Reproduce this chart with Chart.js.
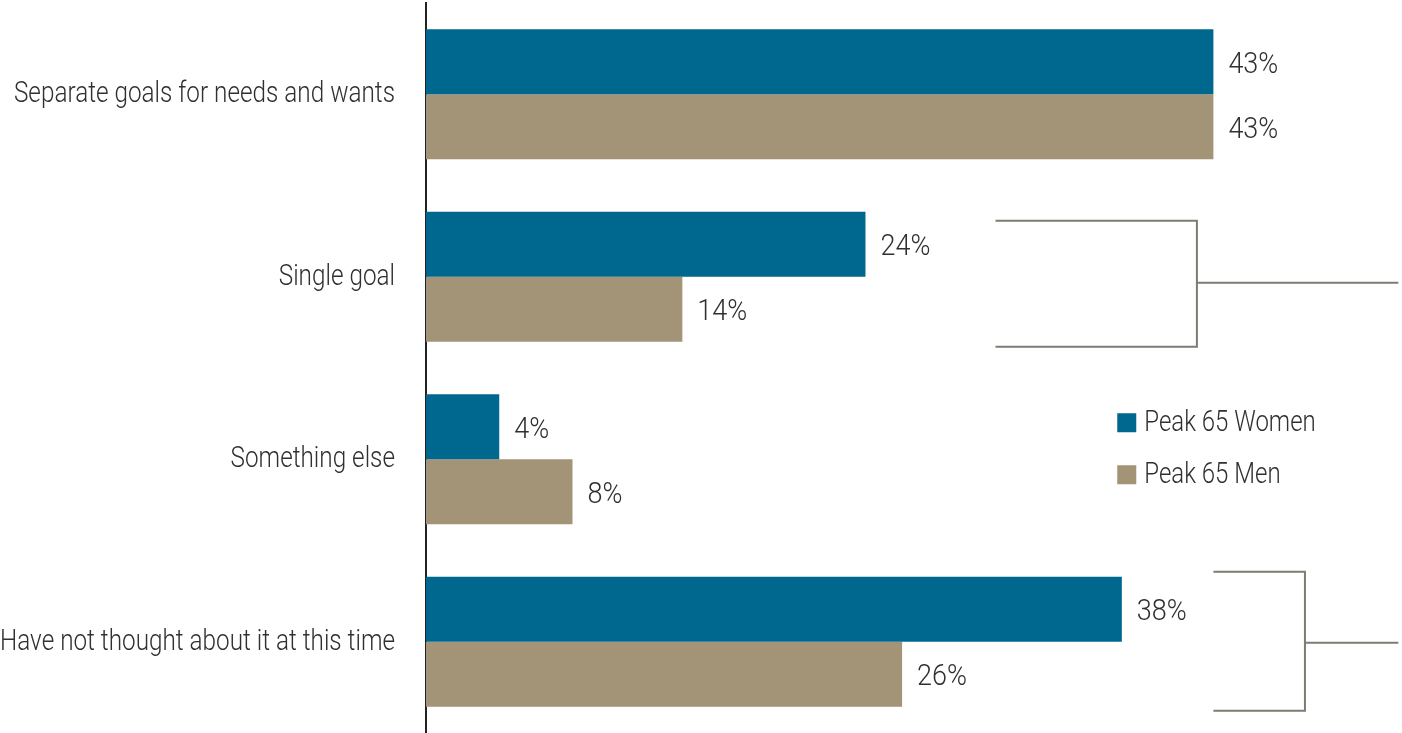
<!DOCTYPE html>
<html>
<head>
<meta charset="utf-8">
<script src="https://cdn.jsdelivr.net/npm/chart.js@4"></script>
<style>
  html, body { margin: 0; padding: 0; background: #fff; }
  #wrap { width: 1402px; height: 733px; }
</style>
</head>
<body>
<div id="wrap"><canvas id="goalsChart"></canvas></div>
<script>
const categories = ['Separate goals for needs and wants', 'Single goal', 'Something else', 'Have not thought about it at this time']
const seriesNames = ['Peak 65 Women', 'Peak 65 Men']
const womenValues = [43, 24, 4, 38]
const menValues = [43, 14, 8, 26]

// brackets on the right: category they group, left edge, spine and tail end (in % units)
const bracketCategory = [1, 3]
const bracketLeft = [31.1, 43]
const bracketSpine = [42.1, 48]
const bracketEnd = 53.1

const FONT = '300 30px Roboto, sans-serif'
const TEXT = '#303030'
const colors = ['#00678f', '#a39377']

// no condensed face installed, so narrow the glyphs by hand
function narrowText(ctx, str, x, y, align, squeeze) {
  ctx.save()
  ctx.font = FONT
  ctx.fillStyle = TEXT
  ctx.textBaseline = 'alphabetic'
  ctx.textAlign = align
  ctx.translate(x, y)
  ctx.scale(squeeze || 0.81, 1)
  ctx.fillText(str, 0, 0)
  ctx.restore()
}

const textLayer = {
  id: 'textLayer',
  afterDatasetsDraw(chart) {
    const ctx = chart.ctx
    const y = chart.scales.y

    // category names, right aligned against the axis
    chart.data.labels.forEach((lab, i) => {
      narrowText(ctx, lab, y.right - 31, y.getPixelForValue(i) + 8, 'right')
    })

    // value labels after each bar
    chart.data.datasets.forEach((ds, i) => {
      chart.getDatasetMeta(i).data.forEach((bar, j) => {
        narrowText(ctx, ds.data[j] + '%', bar.x + 15, bar.y + 11, 'left', 0.9)
      })
    })
  }
}

const brackets = {
  id: 'brackets',
  afterDraw(chart) {
    const ctx = chart.ctx
    const x = chart.scales.x
    const y = chart.scales.y
    const topOff = [-56, -70]
    const midOff = [6, 1]
    const botOff = [70, 69]
    ctx.save()
    ctx.strokeStyle = '#7b7c72'
    ctx.lineWidth = 2
    bracketCategory.forEach((c, i) => {
      const cy = y.getPixelForValue(c)
      const x0 = x.getPixelForValue(bracketLeft[i])
      const xs = x.getPixelForValue(bracketSpine[i])
      const xe = x.getPixelForValue(bracketEnd)
      ctx.beginPath()
      ctx.moveTo(x0, cy + topOff[i])
      ctx.lineTo(xs, cy + topOff[i])
      ctx.lineTo(xs, cy + botOff[i])
      ctx.lineTo(x0, cy + botOff[i])
      ctx.moveTo(xs, cy + midOff[i])
      ctx.lineTo(xe, cy + midOff[i])
      ctx.stroke()
    })
    ctx.restore()

    // legend inside the plot, beside "Something else"
    const lx = x.getPixelForValue(37.75)
    const ly = y.getPixelForValue(2)
    chart.data.datasets.forEach((ds, i) => {
      const base = ly - 28 + i * 52
      ctx.fillStyle = ds.backgroundColor
      ctx.fillRect(lx, base - 18, 19, 19)
      narrowText(ctx, ds.label, lx + 27, base, 'left', 0.8)
    })
  }
}

new Chart(document.getElementById('goalsChart'), {
  type: 'bar',
  data: {
    labels: categories,
    datasets: [
      { label: seriesNames[0], data: womenValues, backgroundColor: colors[0] },
      { label: seriesNames[1], data: menValues, backgroundColor: colors[1] }
    ]
  },
  options: {
    indexAxis: 'y',
    responsive: true,
    maintainAspectRatio: false,
    animation: false,
    layout: { padding: { top: 3, right: 0, bottom: 0, left: 0 } },
    datasets: { bar: { categoryPercentage: 0.712, barPercentage: 1 } },
    plugins: {
      legend: { display: false },
      tooltip: { enabled: false }
    },
    scales: {
      x: {
        display: false,
        min: 0,
        max: 53.3
      },
      y: {
        afterFit(scale) {
          scale.width = 426
          scale.paddingTop = 0
          scale.paddingBottom = 0
        },
        grid: { display: true, color: 'transparent', drawTicks: false },
        border: { display: true, color: '#222222', width: 2 },
        ticks: { display: false }
      }
    }
  },
  plugins: [textLayer, brackets]
})
</script>
</body>
</html>
